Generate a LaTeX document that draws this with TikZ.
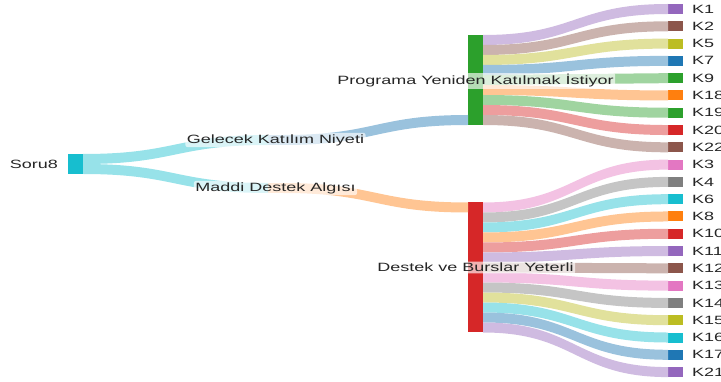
\documentclass[tikz,border=0pt]{standalone}
\usepackage{fontspec}
\setmainfont{Liberation Sans}[FakeStretch=1.5]
\usetikzlibrary{calc,positioning}

\definecolor{tblue}{HTML}{1F77B4}
\definecolor{torange}{HTML}{FF7F0E}
\definecolor{tgreen}{HTML}{2CA02C}
\definecolor{tred}{HTML}{D62728}
\definecolor{tpurple}{HTML}{9467BD}
\definecolor{tbrown}{HTML}{8C564B}
\definecolor{tpink}{HTML}{E377C2}
\definecolor{tgray}{HTML}{7F7F7F}
\definecolor{tolive}{HTML}{BCBD22}
\definecolor{tcyan}{HTML}{17BECF}

% band from the right side of #1 to the left side of #3, 10 units wide
\newcommand{\flowband}[5]{%
  \path (#1.north east) ++(0,{#2}) coordinate (s1) ++(0,10) coordinate (s2);
  \path (#3.north west) ++(0,{#4}) coordinate (t1) ++(0,10) coordinate (t2);
  \coordinate (m) at ($(s1)!0.5!(t1)$);
  \fill[#5!45!white] (s1) .. controls (s1 -| m) and (t1 -| m) .. (t1) -- (t2)
    .. controls (t2 -| m) and (s2 -| m) .. (s2) -- cycle;
}

\tikzset{
  bar/.style={rectangle, draw=none, inner sep=0, outer sep=0, minimum width=15},
  leaf/.style={bar, minimum height=10},
  lbl/.style={fill=white, fill opacity=0.65, text opacity=1, rounded corners=2pt,
    inner sep=1.5pt, text=black!85, font=\fontsize{12}{14}\selectfont},
  klbl/.style={text=black!85, font=\fontsize{12}{14}\selectfont, anchor=west, inner sep=0}
}

\begin{document}
\begin{tikzpicture}[x=1pt,y=-1pt]
		\useasboundingbox (0,0) rectangle (721,382);

		\node[bar, fill=tcyan, minimum height=20] (soru) at (75.5, 164) {};
		\node[bar, fill=tblue!45!white, minimum height=10] (gel) at (275.5, 140) {};
		\node[bar, fill=torange!45!white, minimum height=10] (mad) at (275.5, 188) {};
		\node[bar, fill=tgreen, minimum height=90] (prog) at (475.5, 80) {};
		\node[bar, fill=tred, minimum height=130] (dest) at (475.5, 267.5) {};

		\foreach \k/\c [count=\j from 0] in {K1/tpurple, K2/tbrown, K5/tolive, K7/tblue,
			K9/tgreen, K18/torange, K19/tgreen, K20/tred, K22/tbrown, K3/tpink, K4/tgray,
			K6/tcyan, K8/torange, K10/tred, K11/tpurple, K12/tbrown, K13/tpink, K14/tgray,
			K15/tolive, K16/tcyan, K17/tblue, K21/tpurple}
		{
			\node[leaf, fill=\c] (\k) at (675.5, {9+17.29*\j}) {};
		}

		\flowband{soru}{0}{gel}{0}{tcyan}
		\flowband{soru}{10}{mad}{0}{tcyan}
		\flowband{gel}{0}{prog}{80}{tblue}
		\flowband{mad}{0}{dest}{0}{torange}

		\foreach \k/\c [count=\i from 0] in {K1/tpurple, K2/tbrown, K5/tolive, K7/tblue,
			K9/tgreen, K18/torange, K19/tgreen, K20/tred, K22/tbrown}
		{
			\flowband{prog}{10*\i}{\k}{0}{\c}
		}
		\foreach \k/\c [count=\i from 0] in {K3/tpink, K4/tgray, K6/tcyan, K8/torange,
			K10/tred, K11/tpurple, K12/tbrown, K13/tpink, K14/tgray, K15/tolive,
			K16/tcyan, K17/tblue, K21/tpurple}
		{
			\flowband{dest}{10*\i}{\k}{0}{\c}
		}

		\foreach \k in {K1, K2, K5, K7, K9, K18, K19, K20, K22, K3, K4, K6, K8, K10,
			K11, K12, K13, K14, K15, K16, K17, K21}
		{
			\node[klbl] (\k-lbl) at ([xshift=9]\k.east) {\k};
		}

		\node[klbl, anchor=east] (soru-lbl) at ([xshift=-10]soru.west) {Soru8};
		\node[lbl] (gel-lbl) at (gel) {Gelecek Katılım Niyeti};
		\node[lbl] (mad-lbl) at (mad) {Maddi Destek Algısı};
		\node[lbl] (prog-lbl) at ([yshift=-1]prog) {Programa Yeniden Katılmak İstiyor};
		\node[lbl] (dest-lbl) at (dest) {Destek ve Burslar Yeterli};
	\end{tikzpicture}
\end{document}
